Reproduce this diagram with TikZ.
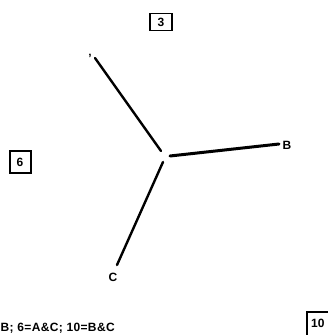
\documentclass[tikz,border=0pt]{standalone}
\usepackage{fontspec}
\setmainfont{Liberation Sans}
\newfontfamily\spacedfont[LetterSpace=3]{Liberation Sans}
\begin{document}
\begin{tikzpicture}[x=1pt,y=1pt,
  lbl/.style={font=\bfseries\fontsize{12}{12}\selectfont, inner sep=0pt},
  numbox/.style={draw, line width=1.5pt, font=\bfseries\fontsize{12}{12}\selectfont, inner sep=0pt},
  edge/.style={line width=2.4pt, line cap=round}]
\useasboundingbox (0,0) rectangle (327,335);
\node[numbox, minimum width=22pt, minimum height=17pt] (b3) at (161,313) {3};
\node[numbox, line width=2pt, minimum width=21pt, minimum height=22pt] (b6) at (20,173) {6};
\coordinate (a1) at (95,277);
\coordinate (a2) at (161,184);
\coordinate (bb1) at (170,179);
\coordinate (bb2) at (279,191);
\coordinate (c1) at (163,173);
\coordinate (c2) at (117,70);
\draw[edge] (a1) -- (a2);
\draw[edge, line width=3pt] (bb1) -- (bb2);
\draw[edge] (c1) -- (c2);
\node[lbl] (tick) at (90,277) {'};
\node[lbl] (B) at (287,190) {B};
\node[lbl] (C) at (113,58) {C};
\node[lbl, font=\spacedfont\bfseries\fontsize{12}{12}\selectfont, anchor=base west] (legend) at (0.5,4) {B; 6=A\&C; 10=B\&C};
\draw[line width=1.5pt] (307,-5) |- (340,23);
\node[lbl, anchor=base west] (t10) at (311,7) {10};
\end{tikzpicture}
\end{document}
